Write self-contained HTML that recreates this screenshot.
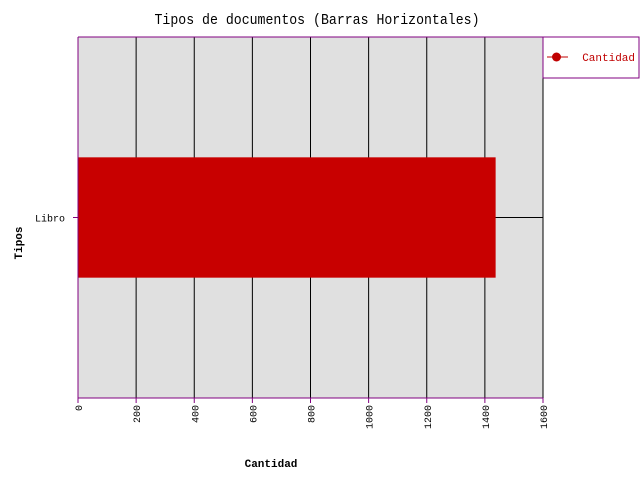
<!DOCTYPE html>
<html><head><meta charset="utf-8"><style>body{margin:0;background:#fff}svg{display:block}text{font-family:"Liberation Mono",monospace}</style></head>
<body>
<svg width="640" height="480" id="c">
<text x="317" y="24" text-anchor="middle" font-size="15" textLength="325" lengthAdjust="spacingAndGlyphs" fill="#000">Tipos de documentos (Barras Horizontales)</text>
<rect x="78" y="37" width="465" height="361" fill="#e0e0e0"/>
<g id="grid"></g>
<g id="bars"></g>
<line x1="78" y1="37" x2="543" y2="37" stroke="#800080"/>
<line x1="78" y1="37" x2="78" y2="398" stroke="#800080"/>
<line x1="78" y1="398" x2="543" y2="398" stroke="#800080"/>
<g id="ticks"></g>
<text x="271" y="467" text-anchor="middle" font-size="11" font-weight="bold">Cantidad</text>
<text transform="translate(22,243) rotate(-90)" text-anchor="middle" font-size="11" font-weight="bold">Tipos</text>
<g>
<rect x="543" y="37" width="96" height="41" fill="#fff" stroke="#800080"/>
<line x1="547" y1="57" x2="568" y2="57" stroke="#c00000"/>
<circle cx="556.5" cy="57" r="4.5" fill="#c00000"/>
<text x="635" y="61" text-anchor="end" font-size="11" fill="#c00000">Cantidad</text>
</g>
</svg>
<script>
const categories=["Libro"];
const values=[1437];
const ticks=[0,200,400,600,800,1000,1200,1400,1600];
const NS="http://www.w3.org/2000/svg";
const x0=78,x1=543,y0=37,y1=398,xmax=1600;
const xs=v=>x0+v/xmax*(x1-x0);
const band=(y1-y0)/categories.length;
function mk(t,a,p){const e=document.createElementNS(NS,t);for(const k in a)e.setAttribute(k,a[k]);document.getElementById(p).appendChild(e);return e;}
ticks.forEach((t,i)=>{
 if(t>0){const g=mk('line',{x1:xs(t),y1:y0,x2:xs(t),y2:y1,stroke:'#000'},'grid');
 
 }
 const tk=mk('line',{x1:xs(t),y1:y1,x2:xs(t),y2:y1+5,stroke:'#800080'},'ticks');
 
 
 const lb=mk('text',{transform:`translate(${xs(t)+4},${y1+7}) rotate(-90)`,'text-anchor':'end','font-size':'10'},'ticks');
 lb.textContent=t;
 
 
});
categories.forEach((c,i)=>{
 const cy=y0+band*(i+0.5),h=band/6;
 const ln=mk('line',{x1:x0,y1:cy,x2:x1,y2:cy,stroke:'#000'},'grid');
 
 
 const r=mk('rect',{x:x0,y:cy-h,width:xs(values[i])-x0,height:2*h,fill:'#c80000'},'bars');
 
 
 const tk=mk('line',{x1:x0-5,y1:cy,x2:x0,y2:cy,stroke:'#800080'},'ticks');
 
 
 const lb=mk('text',{x:x0-13,y:cy+4,'text-anchor':'end','font-size':'10'},'ticks');
 lb.textContent=c;
 
 
});
</script>
</body></html>
